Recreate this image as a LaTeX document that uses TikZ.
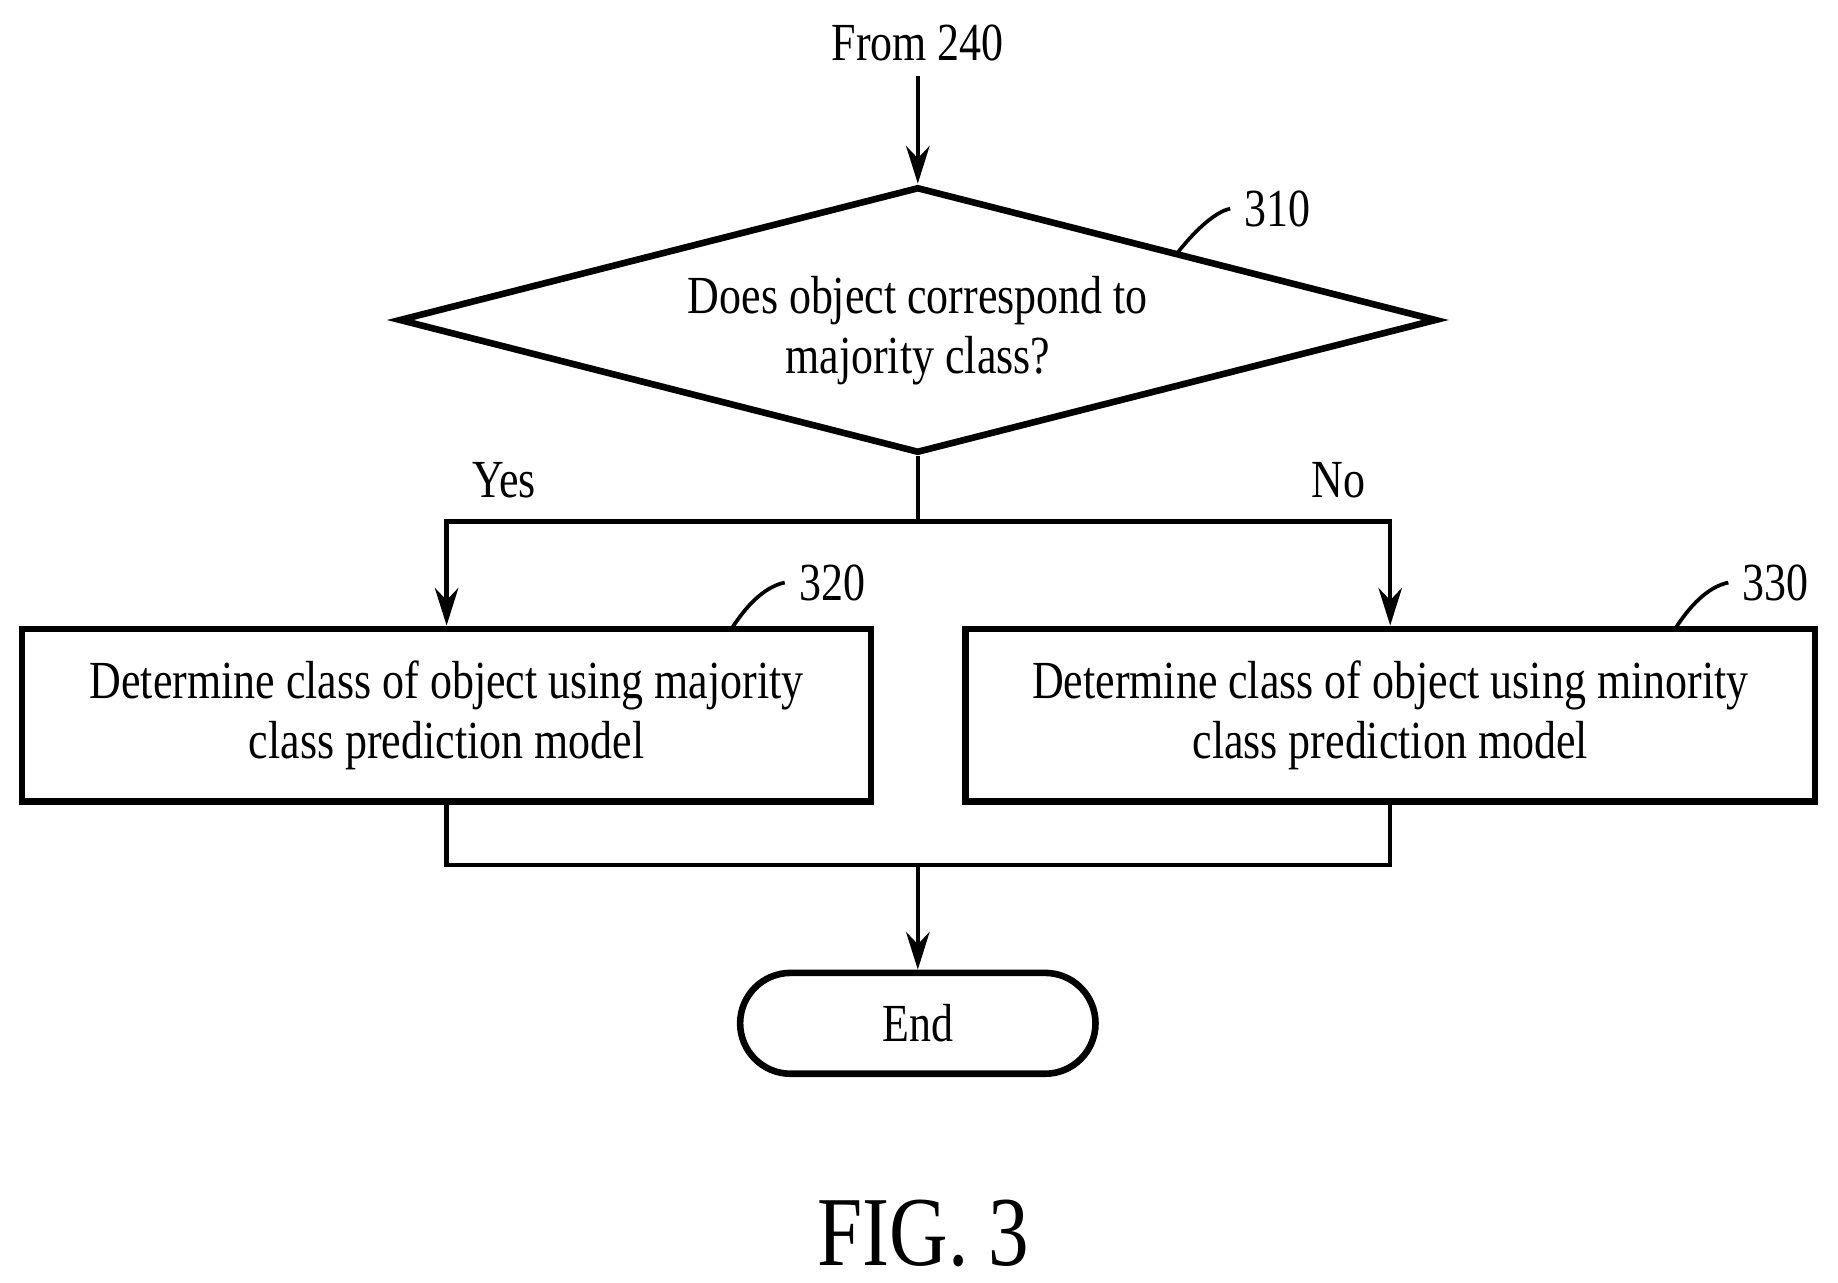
\documentclass[tikz,border=0pt]{standalone}
\usepackage{fontspec}
\setmainfont{Liberation Serif}[FakeStretch=0.82]
\usetikzlibrary{shapes.geometric,arrows.meta}

\tikzset{
  txt/.style={font=\fontsize{13}{14.5}\selectfont, align=center},
  procbox/.style={draw, line width=1.6pt, minimum width=7.24cm, minimum height=1.47cm, txt},
  flow/.style={line width=1.1pt},
  arr/.style={flow, -{Stealth[length=3.2mm,width=2mm]}},
  lead/.style={line width=0.9pt}
}

\begin{document}
\begin{tikzpicture}[x=0.01cm,y=-0.01cm]
    \useasboundingbox (0,0) rectangle (1568,1094);

    \node[txt] (from) at (783,37) {From 240};
    \node[draw, diamond, line width=1.6pt, aspect=3.9, minimum width=8.85cm, minimum height=2.27cm, inner sep=0pt] (dec) at (783,273) {};
    \node[txt] (dect) at (783,282) {Does object correspond to\\majority class?};
    \node[procbox] (maj) at (381,610) {Determine class of object using majority\\class prediction model};
    \node[procbox] (min) at (1186,610) {Determine class of object using minority\\class prediction model};
    \node[draw, rounded corners=0.43cm, line width=1.6pt, minimum width=3.03cm, minimum height=0.86cm, txt] (end) at (783,873) {End};

    \coordinate (split) at (783,445);
    \coordinate (join) at (783,738);

    \draw[arr] (from) -- (dec.north);
    \draw[flow] (dec.south) -- (split);
    \draw[arr] (split) -| (maj.north);
    \draw[arr] (split) -| (min.north);
    \draw[flow] (maj.south) |- (join);
    \draw[flow] (min.south) |- (join);
    \draw[arr] (join) -- (end.north);

    \node[txt] (yes) at (430,410) {Yes};
    \node[txt] (no) at (1142,410) {No};

    % reference numerals
    \node[txt] (n310) at (1090,178) {310};
    \node[txt] (n320) at (710,497) {320};
    \node[txt] (n330) at (1515,497) {330};
    \draw[lead] (1005,215) .. controls (1025,190) and (1040,180) .. (n310.west);
    \draw[lead] (625,535) .. controls (640,512) and (655,500) .. (n320.west);
    \draw[lead] (1430,535) .. controls (1445,512) and (1460,500) .. (n330.west);

    \node[font=\fontsize{24}{28}\selectfont] (fig) at (788,1052) {FIG. 3};
\end{tikzpicture}
\end{document}
